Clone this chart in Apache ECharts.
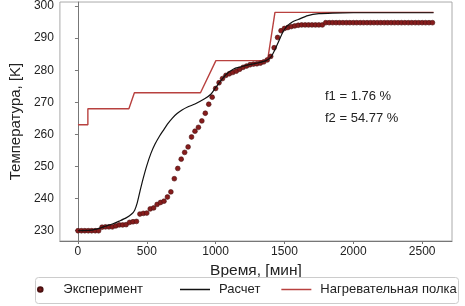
<!DOCTYPE html>
<html>
<head>
<meta charset="utf-8">
<script src="https://cdn.jsdelivr.net/npm/echarts@6/dist/echarts.min.js"></script>
<style>html,body{margin:0;padding:0;background:#fff;}#c{width:465px;height:306px;}</style>
</head>
<body>
<div id="c"></div>
<script>
// Experiment (time, K)
const expTime = [0,25,50,75,100,125,150,175,200,225,250,275,300,325,350,375,400,425,450,475,500,525,550,575,600,625,650,675,700,725,750,775,800,825,850,875,900,925,950,975,1000,1025,1050,1075,1100,1125,1150,1175,1200,1225,1250,1275,1300,1325,1350,1375,1400,1425,1450,1475,1500,1525,1550,1575,1600,1625,1650,1675,1700,1725,1750,1775,1800,1825,1850,1875,1900,1925,1950,1975,2000,2025,2050,2075,2100,2125,2150,2175,2200,2225,2250,2275,2300,2325,2350,2375,2400,2425,2450,2475,2500,2525,2550,2575];
const expTemp = [230,230,230,230,230,230,230,231.1,231.2,231.2,231.2,231.5,231.8,231.8,231.9,232.6,232.8,232.9,235.2,235.4,235.5,236.8,237.1,238.2,238.8,239.2,240.5,242.1,246.2,249.4,252.3,254.4,256.1,259.2,261.0,262.2,264.2,266.6,269.4,271.6,274.3,276.1,277.4,278.4,278.9,279.3,279.7,280.3,280.9,281.3,281.7,281.9,282.0,282.2,282.6,283.2,284.3,287.0,290.2,292.3,293.0,293.3,293.6,293.8,294.0,294.1,294.1,294.1,294.1,294.1,294.1,294.1,294.8,294.8,294.8,294.8,294.8,294.8,294.8,294.8,294.8,294.8,294.8,294.8,294.8,294.8,294.8,294.8,294.8,294.8,294.8,294.8,294.8,294.8,294.8,294.8,294.8,294.8,294.8,294.8,294.8,294.8,294.8,294.8];
// Calculation
const calcTime = [0,100,160,200,250,300,350,390,412,430,450,472,500,530,560,593,616,650,686,720,756,800,850,920,967,1002,1037,1080,1131,1180,1224,1300,1366,1400,1430,1459,1490,1520,1560,1600,1670,1750,1850,2000,2583];
const calcTemp = [230.0,230.2,230.8,231.4,232.1,233.0,234.0,235.2,236.4,238.6,242.2,246.0,250.3,254.1,257.0,259.5,261.0,263.2,265.1,266.5,267.6,268.6,269.5,271.1,272.6,274.7,276.7,278.8,280.4,281.0,281.5,282.2,283.0,284.0,286.3,289.1,292.0,293.8,295.1,295.8,297.0,297.6,297.8,297.9,297.9];
// Heating shelf
const shelfTime = [0,72,72,370,410,890,1002,1377,1431,2583];
const shelfTemp = [263,263,268,268,273,273,283,283,298,298];
const xTicks = [0,500,1000,1500,2000,2500];
const yTicks = [230,240,250,260,270,280,290,300];
const names = ['Эксперимент','Расчет','Нагревательная полка'];
const notes = ['f1 = 1.76 %','f2 = 54.77 %'];

const zip = (a,b)=>a.map((v,i)=>[v,b[i]]);
const FONT = 'Liberation Sans, Arial, sans-serif';
const legendText = {fontFamily:FONT,fontSize:13,color:'#222'};
const chart = echarts.init(document.getElementById('c'), null, {renderer:'canvas'});
chart.setOption({
  animation:false,
  backgroundColor:'#fff',
  grid:{left:47,right:13,top:1,bottom:65,show:true,borderColor:'#aaa',borderWidth:1},
  xAxis:{type:'value',min:-131,max:2717,
    name:'Время, [мин]',nameLocation:'middle',nameGap:19,
    nameTextStyle:{fontFamily:FONT,fontSize:15.5,color:'#222'},
    axisLine:{show:true,lineStyle:{color:'#777',width:1}},
    axisTick:{show:true,length:3,lineStyle:{color:'#777'},customValues:xTicks},
    axisLabel:{fontFamily:FONT,fontSize:12,color:'#222',margin:5,customValues:xTicks,formatter:v=>String(v)},
    splitLine:{show:false}},
  yAxis:{type:'value',min:226.8,max:301.24,
    name:'Температура, [K]',nameLocation:'middle',nameGap:28,nameRotate:90,
    nameTextStyle:{fontFamily:FONT,fontSize:15,color:'#222'},
    axisLine:{show:true,lineStyle:{color:'#777',width:1}},
    axisTick:{show:true,length:3,lineStyle:{color:'#777'},customValues:yTicks},
    axisLabel:{fontFamily:FONT,fontSize:12,color:'#222',margin:6,customValues:yTicks,formatter:v=>String(v)},
    splitLine:{show:false}},
  legend:[
    {left:37,top:283,padding:0,itemWidth:36,itemHeight:4.6,itemGap:0,
      textStyle:legendText,data:[{name:names[0],icon:'circle'}]},
    {left:180,top:283,padding:0,itemWidth:30,itemHeight:1.5,itemGap:21,
      textStyle:Object.assign({padding:[0,0,0,4]},legendText),
      data:[{name:names[1],icon:'rect'},{name:names[2],icon:'rect'}]}
  ],
  series:[
    {name:names[2],type:'line',data:zip(shelfTime,shelfTemp),showSymbol:false,symbol:'none',
      lineStyle:{color:'#b8413f',width:1.4},itemStyle:{color:'#b8413f'},z:2},
    {name:names[0],type:'scatter',data:zip(expTime,expTemp),symbol:'circle',symbolSize:4.8,
      itemStyle:{color:'#861c1c',borderColor:'#4a1010',borderWidth:0.6,opacity:1},z:3},
    {name:names[1],type:'line',data:zip(calcTime,calcTemp),showSymbol:false,symbol:'none',smooth:0.25,
      lineStyle:{color:'#111',width:1.2},itemStyle:{color:'#111'},z:4}
  ],
  graphic:[
    {type:'rect',left:35,top:277,z:10,silent:true,shape:{x:0,y:0,width:423,height:26,r:3},style:{fill:'rgba(0,0,0,0)',stroke:'#cccccc',lineWidth:1}},
    {type:'text',left:325,top:90,style:{text:notes[0],font:'13px '+FONT,fill:'#222'}},
    {type:'text',left:325,top:112,style:{text:notes[1],font:'13px '+FONT,fill:'#222'}}
  ]
});
</script>
</body>
</html>
